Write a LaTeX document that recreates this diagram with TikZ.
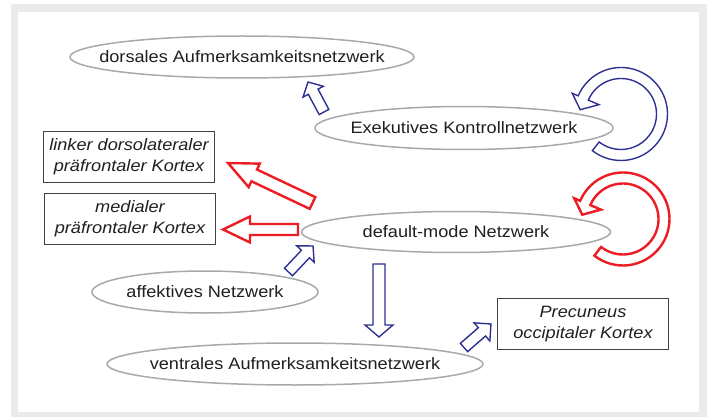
\documentclass[tikz,border=0pt]{standalone}
\usepackage{fontspec}
\setmainfont{Liberation Sans}[FakeStretch=1.1]
\usetikzlibrary{shapes,positioning,calc}
\definecolor{netzblue}{RGB}{46,49,146}
\definecolor{netzred}{RGB}{237,28,36}
\definecolor{netzgray}{RGB}{167,169,172}
\definecolor{framegray}{RGB}{235,235,237}
\definecolor{textdark}{RGB}{35,31,32}
\tikzset{
    netz/.style={inner sep=0pt, font=\fontsize{16.5}{21}\selectfont, text=textdark},
    netzline/.style={draw=netzgray, line width=1.5pt},
    region/.style={rectangle, draw=textdark!85, line width=1pt, minimum width=171pt, minimum height=51pt, inner sep=0pt, align=center, font=\fontsize{16.5}{21}\selectfont\itshape, text=textdark},
    bluearr/.style={draw=netzblue, line width=1.4pt, fill=white, line join=miter},
    redarr/.style={draw=netzred, line width=2.4pt, fill=white, line join=miter},
}
% hollow arrow: style, tail, tip, shaft half width, head half width, head length
\newcommand{\hollowarrow}[6]{
    \coordinate (ha) at ($(#3)!#6!(#2)$);
    \draw[#1] ($(#2)!#4!90:(#3)$) -- ($(ha)!#4!90:(#3)$) -- ($(ha)!#5!90:(#3)$) -- (#3)
        -- ($(ha)!#5!-90:(#3)$) -- ($(ha)!#4!-90:(#3)$) -- ($(#2)!#4!-90:(#3)$) -- cycle;
}
% hollow ring arrow round a centre
\newcommand{\ringarrow}[2]{
    \draw[#1] ($(#2)+(128:46.5)$) arc[start angle=128, end angle=-157, radius=46.5]
        -- ($(#2)+(-157:53)$) -- ($(#2)+(-174:41)$) -- ($(#2)+(-157:24)$) -- ($(#2)+(-157:35.5)$)
        arc[start angle=-157, end angle=128, radius=35.5] -- cycle;
}

\begin{document}
\begin{tikzpicture}[x=1pt, y=-1pt]
    \useasboundingbox (0,0) rectangle (707,417);
    % frame
    \fill[framegray] (11,4) rectangle (707,417);
    \fill[white] (18,12) rectangle (699,412);

    % networks
    \foreach \name/\x/\y/\rx/\ry/\txt in {
        dorsal/242/57/172/21/dorsales Aufmerksamkeitsnetzwerk,
        exek/464/128/149/21.5/Exekutives Kontrollnetzwerk,
        dmn/456/232/154.5/20.5/default-mode Netzwerk,
        affekt/205/292/113/21/affektives Netzwerk,
        ventral/295/364/188/21/ventrales Aufmerksamkeitsnetzwerk} {
        \node[netz] (\name) at (\x,\y) {\txt};
        \draw[netzline] (\name.center) ellipse[x radius=\rx, y radius=\ry];
    }

    % cortex regions
    \node[region] (dlpfc) at (129,157) {linker dorsolateraler\\präfrontaler Kortex};
    \node[region] (mpfc) at (130,219) {medialer\\präfrontaler Kortex};
    \node[region] (precun) at (583,324) {Precuneus\\occipitaler Kortex};

    % arrow ends
    \coordinate (exek-out) at (324,112);   \coordinate (dorsal-in) at (308,82);
    \coordinate (dmn-out1) at (312.5,203); \coordinate (dlpfc-in) at (228,163);
    \coordinate (dmn-out2) at (298,229.5); \coordinate (mpfc-in) at (223,229.5);
    \coordinate (affekt-out) at (288.5,272); \coordinate (dmn-in) at (313,246);
    \coordinate (dmn-out3) at (379,264);   \coordinate (ventral-in) at (379,337);
    \coordinate (ventral-out) at (464,347.5); \coordinate (precun-in) at (491,324);
    \coordinate (exek-loop) at (621,114);  \coordinate (dmn-loop) at (623,219);

    \hollowarrow{bluearr}{exek-out}{dorsal-in}{5.5pt}{11.5pt}{11pt}
    \hollowarrow{redarr}{dmn-out1}{dlpfc-in}{6.5pt}{13pt}{29pt}
    \hollowarrow{redarr}{dmn-out2}{mpfc-in}{5.5pt}{13pt}{27pt}
    \hollowarrow{bluearr}{affekt-out}{dmn-in}{5.5pt}{12pt}{11pt}
    \hollowarrow{bluearr}{dmn-out3}{ventral-in}{6pt}{14pt}{12pt}
    \hollowarrow{bluearr}{ventral-out}{precun-in}{5.5pt}{12pt}{12pt}

    % loops
    \ringarrow{bluearr}{exek-loop}
    \ringarrow{redarr}{dmn-loop}
\end{tikzpicture}
\end{document}
